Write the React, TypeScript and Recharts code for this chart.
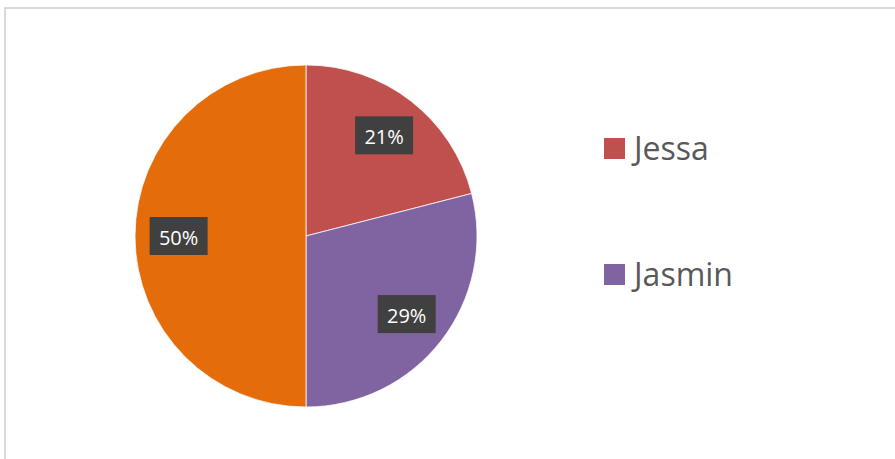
import React from "react";
import { PieChart, Pie, Cell, Legend } from "recharts";

const names = ["Jessa", "Jasmin", "Other"];
const values = [21, 29, 50];
const colors = ["#C0504D", "#8064A2", "#E46C0A"];
const legendNames = ["Jessa", "Jasmin"];

const data = names.map((n, i) => ({ name: n, value: values[i] }));

const RADIAN = Math.PI / 180;

const renderLabel = (props: any) => {
  const { cx, cy, midAngle, outerRadius, percent } = props;
  const r = outerRadius * 0.745;
  const x = cx + r * Math.cos(-midAngle * RADIAN);
  const y = cy + r * Math.sin(-midAngle * RADIAN);
  const w = 58;
  const h = 38;
  return (
    <g>
      <rect x={x - w / 2} y={y - h / 2} width={w} height={h} fill="#404040" />
      <text
        x={x}
        y={y + 1}
        fill="#FFFFFF"
        textAnchor="middle"
        dominantBaseline="central"
        fontFamily="Open Sans, Noto Sans, sans-serif"
        fontSize={20}
      >
        {`${Math.round(percent * 100)}%`}
      </text>
    </g>
  );
};

const renderLegend = () => (
  <div style={{ fontFamily: "Open Sans, Noto Sans, sans-serif" }}>
    {legendNames.map((n, i) => (
      <div
        key={n}
        style={{
          display: "flex",
          alignItems: "center",
          height: 40,
          marginBottom: i === 0 ? 86 : 0,
        }}
      >
        <div style={{ width: 21, height: 21, background: colors[i], marginRight: 9 }} />
        <span style={{ fontSize: 32, color: "#595959", lineHeight: "40px" }}>{n}</span>
      </div>
    ))}
  </div>
);

export default function App() {
  return (
    <div style={{ position: "absolute", left: 0, top: 0, width: 895, height: 459, overflow: "hidden", background: "#fff" }}>
      <div
        style={{
          position: "absolute",
          left: 4,
          top: 7,
          width: 905,
          height: 470,
          borderTop: "2px solid #D9D9D9",
          borderLeft: "2px solid #D9D9D9",
          boxSizing: "border-box",
        }}
      />
      <div style={{ position: "absolute", left: 0, top: 0 }}>
        <PieChart width={895} height={459} margin={{ top: 0, right: 0, bottom: 0, left: 0 }}>
          <Pie
            data={data}
            dataKey="value"
            nameKey="name"
            cx={306}
            cy={236}
            outerRadius={171}
            startAngle={90}
            endAngle={-270}
            stroke="#FFFFFF"
            strokeWidth={0.75}
            label={renderLabel}
            labelLine={false}
            isAnimationActive={false}
          >
            {data.map((d, i) => (
              <Cell key={d.name} fill={colors[i]} />
            ))}
          </Pie>
          <Legend
            content={renderLegend}
            wrapperStyle={{ position: "absolute", left: 604, top: 128, width: 200 }}
          />
        </PieChart>
      </div>
    </div>
  );
}
